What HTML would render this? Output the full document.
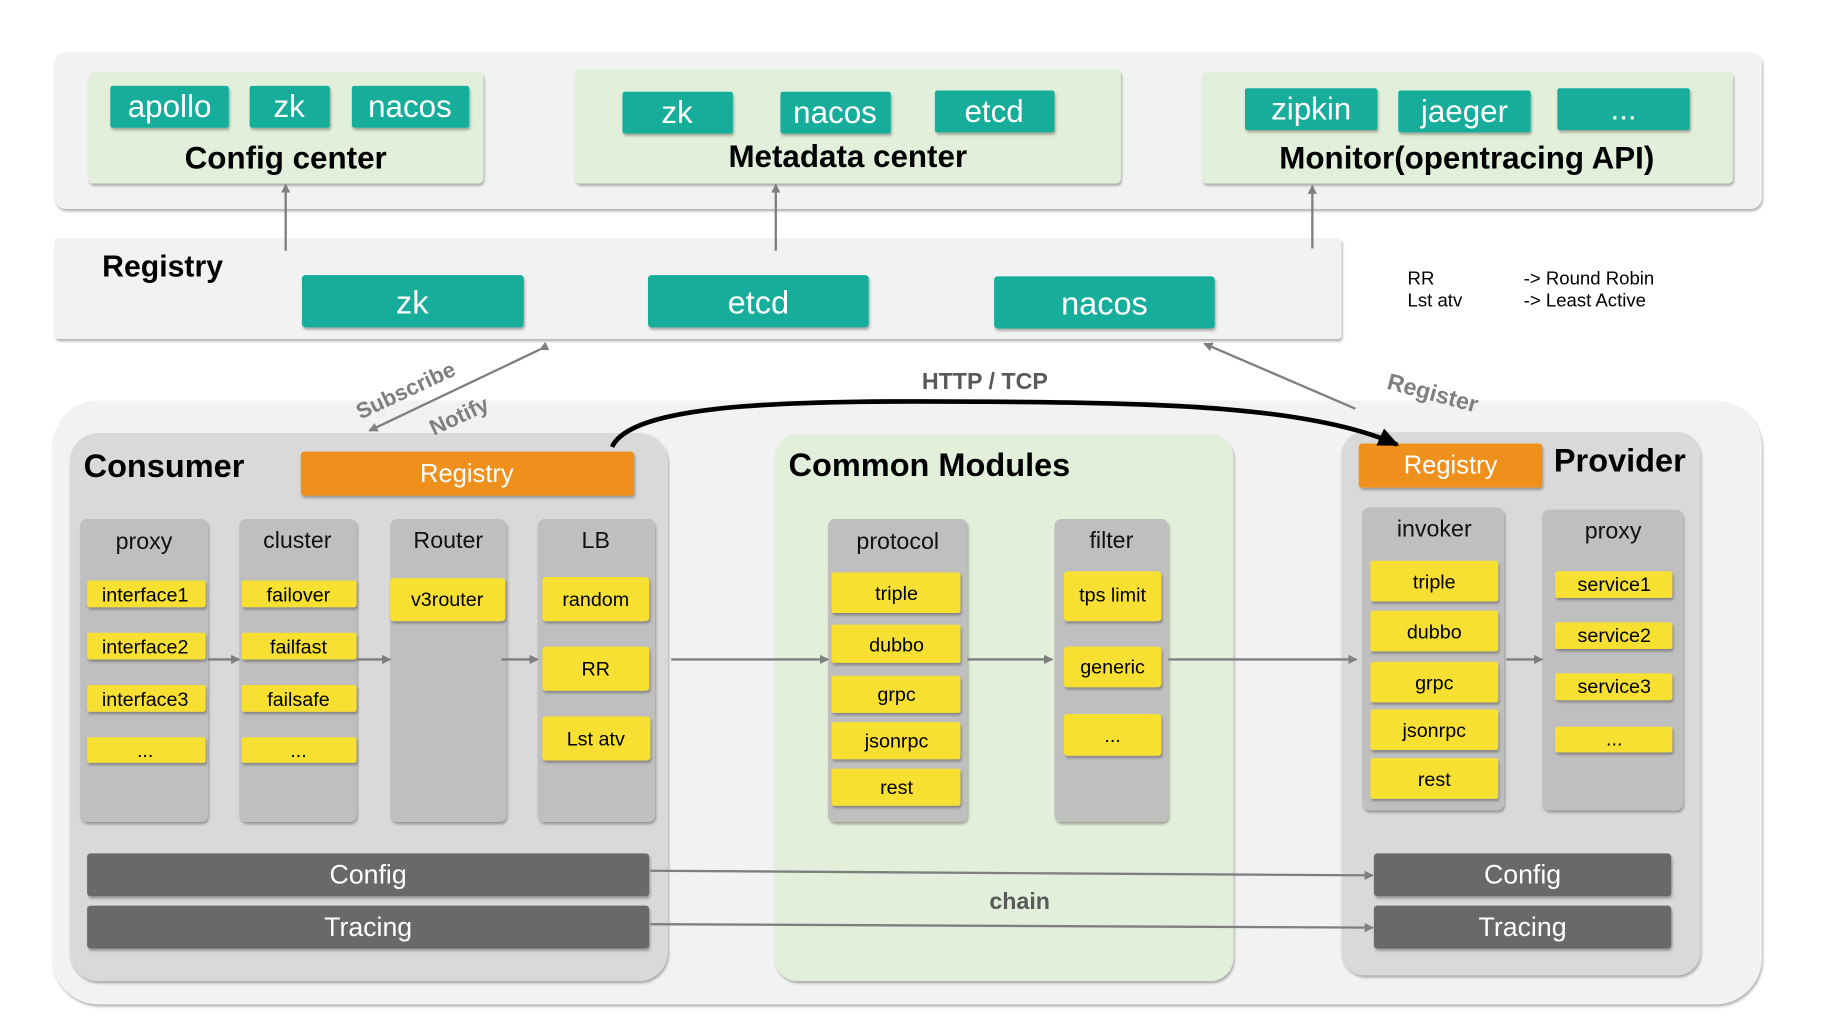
<!DOCTYPE html>
<html><head><meta charset="utf-8"><style>
html,body{margin:0;padding:0;background:#fff;}
svg{display:block;}
text{font-family:"Liberation Sans",sans-serif;}
</style></head><body>
<svg width="1821" height="1024" viewBox="0 0 1568 882" preserveAspectRatio="none" xmlns="http://www.w3.org/2000/svg">
<defs>
<filter id="sh" x="-5%" y="-5%" width="110%" height="120%"><feDropShadow dx="1" dy="2" stdDeviation="1.2" flood-color="#000" flood-opacity="0.3"/></filter>
<marker id="ag" markerWidth="8" markerHeight="8" refX="7" refY="4" orient="auto" markerUnits="userSpaceOnUse"><path d="M0,0 L8,4 L0,8 z" fill="#7f7f7f"/></marker>
<marker id="ab" markerWidth="20" markerHeight="20" refX="16" refY="10" orient="auto" markerUnits="userSpaceOnUse"><path d="M0,2 L18,10 L0,18 z" fill="#000"/></marker>
</defs>
<rect width="1568" height="882" fill="#fff"/>

<rect x="47" y="45" width="1470" height="135" rx="10" fill="#f2f2f2" filter="url(#sh)"/>
<g filter="url(#sh)">
<rect x="76" y="62" width="340" height="96" rx="4" fill="#e2efda"/>
<rect x="495" y="60" width="470" height="98" rx="4" fill="#e2efda"/>
<rect x="1035" y="62" width="457" height="96" rx="4" fill="#e2efda"/>
</g>
<g fill="#13ad9b" filter="url(#sh)">
<rect x="95" y="74" width="102" height="36" rx="2"/>
<rect x="215" y="74" width="69" height="36" rx="2"/>
<rect x="303" y="74" width="101" height="36" rx="2"/>
<rect x="536" y="79" width="95" height="36" rx="2"/>
<rect x="672" y="79" width="95" height="36" rx="2"/>
<rect x="805" y="78" width="103" height="36" rx="2"/>
<rect x="1072" y="76" width="114" height="36" rx="2"/>
<rect x="1204" y="78" width="114" height="36" rx="2"/>
<rect x="1341" y="76" width="114" height="36" rx="2"/>
</g>
<g fill="#fff" font-size="27" text-anchor="middle">
<text x="146" y="101">apollo</text>
<text x="249" y="101">zk</text>
<text x="353" y="101">nacos</text>
<text x="583" y="106">zk</text>
<text x="719" y="106">nacos</text>
<text x="856" y="105">etcd</text>
<text x="1129" y="103">zipkin</text>
<text x="1261" y="105">jaeger</text>
<text x="1398" y="103">...</text>
</g>
<g font-size="27" font-weight="bold" text-anchor="middle" fill="#000">
<text x="246" y="145">Config center</text>
<text x="730" y="144">Metadata center</text>
<text x="1263" y="145">Monitor(opentracing API)</text>
</g>

<rect x="47" y="205" width="1108" height="87" rx="3" fill="#f2f2f2" filter="url(#sh)"/>
<text x="88" y="238" font-size="26" font-weight="bold">Registry</text>
<g fill="#13ad9b" filter="url(#sh)">
<rect x="260" y="237" width="191" height="45" rx="3"/>
<rect x="558" y="237" width="190" height="45" rx="3"/>
<rect x="856" y="238" width="190" height="45" rx="3"/>
</g>
<g fill="#fff" font-size="28" text-anchor="middle">
<text x="355" y="270">zk</text>
<text x="653" y="270">etcd</text>
<text x="951" y="271">nacos</text>
</g>
<g stroke="#7f7f7f" stroke-width="2" marker-end="url(#ag)">
<line x1="246" y1="216" x2="246" y2="159"/>
<line x1="668" y1="216" x2="668" y2="159"/>
<line x1="1130" y1="214" x2="1130" y2="160"/>
</g>
<g font-size="16" fill="#000">
<text x="1212" y="245">RR</text><text x="1212" y="264">Lst atv</text>
<text x="1312" y="245">-&gt; Round Robin</text><text x="1312" y="264">-&gt; Least Active</text>
</g>

<rect x="45" y="345" width="1472" height="520" rx="40" fill="#f2f2f2" filter="url(#sh)"/>

<rect x="60" y="373" width="515" height="472" rx="25" fill="#d9d9d9" filter="url(#sh)"/>
<text x="72" y="411" font-size="28" font-weight="bold">Consumer</text>
<rect x="259" y="389" width="287" height="38" rx="3" fill="#f0901e" filter="url(#sh)"/>
<text x="402" y="415" font-size="22" fill="#fff" text-anchor="middle">Registry</text>
<g fill="#bfbfbf" filter="url(#sh)">
<rect x="69" y="447" width="110" height="261" rx="6"/>
<rect x="206" y="447" width="101" height="261" rx="6"/>
<rect x="336" y="447" width="100" height="261" rx="6"/>
<rect x="463" y="447" width="101" height="261" rx="6"/>
</g>
<g font-size="20" text-anchor="middle" fill="#111">
<text x="124" y="473">proxy</text><text x="256" y="472">cluster</text>
<text x="386" y="472">Router</text><text x="513" y="472">LB</text>
</g>
<g fill="#f7e030" filter="url(#sh)">
<rect x="75" y="500" width="102" height="23" rx="2"/><rect x="75" y="545" width="102" height="23" rx="2"/>
<rect x="75" y="590" width="102" height="23" rx="2"/><rect x="75" y="635" width="102" height="22" rx="2"/>
<rect x="208" y="500" width="99" height="23" rx="2"/><rect x="208" y="545" width="99" height="23" rx="2"/>
<rect x="208" y="590" width="99" height="23" rx="2"/><rect x="208" y="635" width="99" height="22" rx="2"/>
<rect x="336" y="498" width="99" height="37" rx="3"/>
<rect x="467" y="497" width="92" height="38" rx="3"/><rect x="467" y="557" width="92" height="38" rx="3"/>
<rect x="467" y="617" width="93" height="38" rx="3"/>
</g>
<g font-size="17" text-anchor="middle" fill="#000">
<text x="125" y="518">interface1</text><text x="125" y="563">interface2</text>
<text x="125" y="608">interface3</text><text x="125" y="652">...</text>
<text x="257" y="518">failover</text><text x="257" y="563">failfast</text>
<text x="257" y="608">failsafe</text><text x="257" y="652">...</text>
<text x="385" y="522">v3router</text>
<text x="513" y="522">random</text><text x="513" y="582">RR</text><text x="513" y="642">Lst atv</text>
</g>
<g fill="#6b6767" filter="url(#sh)">
<rect x="75" y="735" width="484" height="37" rx="3"/><rect x="75" y="780" width="484" height="37" rx="3"/>
</g>
<g font-size="23" fill="#fff" text-anchor="middle">
<text x="317" y="761">Config</text><text x="317" y="806">Tracing</text>
</g>

<rect x="667" y="374" width="395" height="471" rx="20" fill="#e2efda" filter="url(#sh)"/>
<text x="679" y="410" font-size="28" font-weight="bold">Common Modules</text>
<g fill="#bfbfbf" filter="url(#sh)">
<rect x="713" y="447" width="120" height="261" rx="6"/>
<rect x="908" y="447" width="98" height="261" rx="6"/>
</g>
<g font-size="20" text-anchor="middle" fill="#111"><text x="773" y="473">protocol</text><text x="957" y="472">filter</text></g>
<g fill="#f7e030" filter="url(#sh)">
<rect x="716" y="493" width="111" height="35" rx="2"/><rect x="716" y="538" width="111" height="33" rx="2"/>
<rect x="716" y="582" width="111" height="32" rx="2"/><rect x="716" y="622" width="111" height="32" rx="2"/>
<rect x="716" y="662" width="111" height="32" rx="2"/>
<rect x="916" y="492" width="84" height="43" rx="3"/><rect x="916" y="557" width="84" height="35" rx="3"/>
<rect x="916" y="615" width="84" height="36" rx="3"/>
</g>
<g font-size="17" text-anchor="middle" fill="#000">
<text x="772" y="517">triple</text><text x="772" y="561">dubbo</text><text x="772" y="604">grpc</text>
<text x="772" y="644">jsonrpc</text><text x="772" y="684">rest</text>
<text x="958" y="518">tps limit</text><text x="958" y="580">generic</text><text x="958" y="639">...</text>
</g>
<text x="878" y="783" font-size="20" font-weight="bold" fill="#595959" text-anchor="middle">chain</text>

<rect x="1155" y="372" width="309" height="468" rx="20" fill="#d9d9d9" filter="url(#sh)"/>
<rect x="1170" y="382" width="158" height="38" rx="3" fill="#f0901e" filter="url(#sh)"/>
<text x="1249" y="408" font-size="22" fill="#fff" text-anchor="middle">Registry</text>
<text x="1338" y="406" font-size="28" font-weight="bold">Provider</text>
<g fill="#bfbfbf" filter="url(#sh)">
<rect x="1173" y="437" width="122" height="261" rx="6"/>
<rect x="1328" y="439" width="121" height="259" rx="6"/>
</g>
<g font-size="20" text-anchor="middle" fill="#111"><text x="1235" y="462">invoker</text><text x="1389" y="464">proxy</text></g>
<g fill="#f7e030" filter="url(#sh)">
<rect x="1180" y="483" width="110" height="35" rx="2"/><rect x="1180" y="526" width="110" height="35" rx="2"/>
<rect x="1180" y="570" width="110" height="35" rx="2"/><rect x="1180" y="611" width="110" height="35" rx="2"/>
<rect x="1180" y="653" width="110" height="35" rx="2"/>
<rect x="1339" y="492" width="101" height="23" rx="2"/><rect x="1339" y="536" width="101" height="23" rx="2"/>
<rect x="1339" y="580" width="101" height="23" rx="2"/><rect x="1339" y="626" width="101" height="22" rx="2"/>
</g>
<g font-size="17" text-anchor="middle" fill="#000">
<text x="1235" y="507">triple</text><text x="1235" y="550">dubbo</text><text x="1235" y="594">grpc</text>
<text x="1235" y="635">jsonrpc</text><text x="1235" y="677">rest</text>
<text x="1390" y="509">service1</text><text x="1390" y="553">service2</text>
<text x="1390" y="597">service3</text><text x="1390" y="642">...</text>
</g>
<g fill="#6b6767" filter="url(#sh)">
<rect x="1183" y="735" width="256" height="37" rx="3"/><rect x="1183" y="780" width="256" height="37" rx="3"/>
</g>
<g font-size="23" fill="#fff" text-anchor="middle">
<text x="1311" y="761">Config</text><text x="1311" y="806">Tracing</text>
</g>

<g stroke="#7f7f7f" stroke-width="2" marker-end="url(#ag)">
<line x1="179" y1="568" x2="206" y2="568"/>
<line x1="307" y1="568" x2="336" y2="568"/>
<line x1="432" y1="568" x2="463" y2="568"/>
<line x1="578" y1="568" x2="713" y2="568"/>
<line x1="833" y1="568" x2="906" y2="568"/>
<line x1="1006" y1="568" x2="1168" y2="568"/>
<line x1="1297" y1="568" x2="1328" y2="568"/>
<line x1="560" y1="750" x2="1182" y2="754"/>
<line x1="560" y1="796" x2="1182" y2="799"/>
</g>

<path d="M527,385 C545,345 700,345 850,346 C1000,347 1130,350 1203,383" fill="none" stroke="#000" stroke-width="4" marker-end="url(#ab)"/>
<text x="848" y="335" font-size="20" font-weight="bold" fill="#595959" text-anchor="middle">HTTP / TCP</text>
<line x1="465" y1="301" x2="318" y2="371" stroke="#7f7f7f" stroke-width="2" marker-end="url(#ag)" marker-start="url(#ag)"/>
<text x="352" y="342" font-size="19" font-weight="bold" fill="#7f7f7f" text-anchor="middle" transform="rotate(-25 352 342)">Subscribe</text>
<text x="398" y="364" font-size="19" font-weight="bold" fill="#7f7f7f" text-anchor="middle" transform="rotate(-25 398 364)">Notify</text>
<line x1="1167" y1="352" x2="1037" y2="296" stroke="#7f7f7f" stroke-width="2" marker-end="url(#ag)"/>
<text x="1232" y="345" font-size="20" font-weight="bold" fill="#7f7f7f" text-anchor="middle" transform="rotate(15 1232 345)">Register</text>
</svg>
</body></html>
